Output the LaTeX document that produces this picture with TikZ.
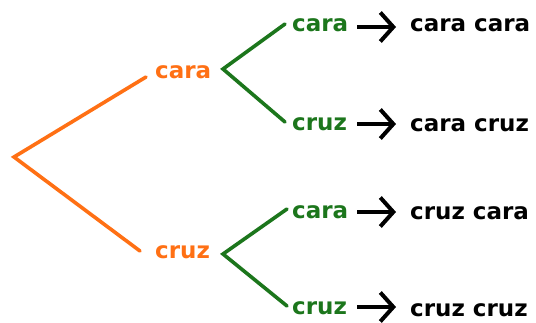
\documentclass[tikz,border=0pt]{standalone}
\usepackage{fontspec}
\setmainfont{DejaVu Sans}
\usetikzlibrary{arrows.meta}
\definecolor{treeorange}{RGB}{255,112,20}
\definecolor{treegreen}{RGB}{28,118,28}
\begin{document}
\begin{tikzpicture}[x=1pt,y=-1pt,
  lbl/.style={font=\fontsize{23}{26}\selectfont\bfseries, inner sep=0pt, anchor=west},
  olbl/.style={lbl, text=treeorange},
  glbl/.style={lbl, text=treegreen},
  rlbl/.style={lbl, text=black},
  obranch/.style={draw=treeorange, line width=3.6pt, line cap=round, line join=miter},
  gbranch/.style={draw=treegreen, line width=3.6pt, line cap=round, line join=miter},
  resarrow/.style={draw=black, line width=4pt, -{Straight Barb[length=13pt,width=29pt]}}]
\useasboundingbox (0,0) rectangle (536,322);
\fill[white] (0,0) rectangle (536,322);
% nodes
\coordinate (root) at (14,157);
\node[olbl] (o1) at (155,72) {cara};
\node[olbl] (o2) at (155,252) {cruz};
\node[glbl] (g1) at (292,25) {cara};
\node[glbl] (g2) at (292,124) {cruz};
\node[glbl] (g3) at (292,212) {cara};
\node[glbl] (g4) at (292,308) {cruz};
\node[rlbl] (r1) at (410,25) {cara cara};
\node[rlbl] (r2) at (410,125) {cara cruz};
\node[rlbl] (r3) at (410,213) {cruz cara};
\node[rlbl] (r4) at (410,310) {cruz cruz};
\coordinate (j1) at (223,69);
\coordinate (j2) at (223,254);
% orange branches
\draw[obranch] ([shift={(-9,5)}]o1.west) -- (root) -- ([shift={(-15,-1)}]o2.west);
% green branches
\draw[gbranch] ([shift={(-7,-1)}]g1.west) -- (j1) -- ([shift={(-7,-2)}]g2.west);
\draw[gbranch] ([shift={(-5,-3)}]g3.west) -- (j2) -- ([shift={(-5,-2)}]g4.west);
% arrows
\draw[resarrow] (357,27) coordinate (a1) -- ([shift={(-14,0)}]r1.west |- a1);
\draw[resarrow] (357,124) coordinate (a2) -- ([shift={(-14,0)}]r2.west |- a2);
\draw[resarrow] (357,212) coordinate (a3) -- ([shift={(-14,0)}]r3.west |- a3);
\draw[resarrow] (357,307) coordinate (a4) -- ([shift={(-14,0)}]r4.west |- a4);
\end{tikzpicture}
\end{document}
